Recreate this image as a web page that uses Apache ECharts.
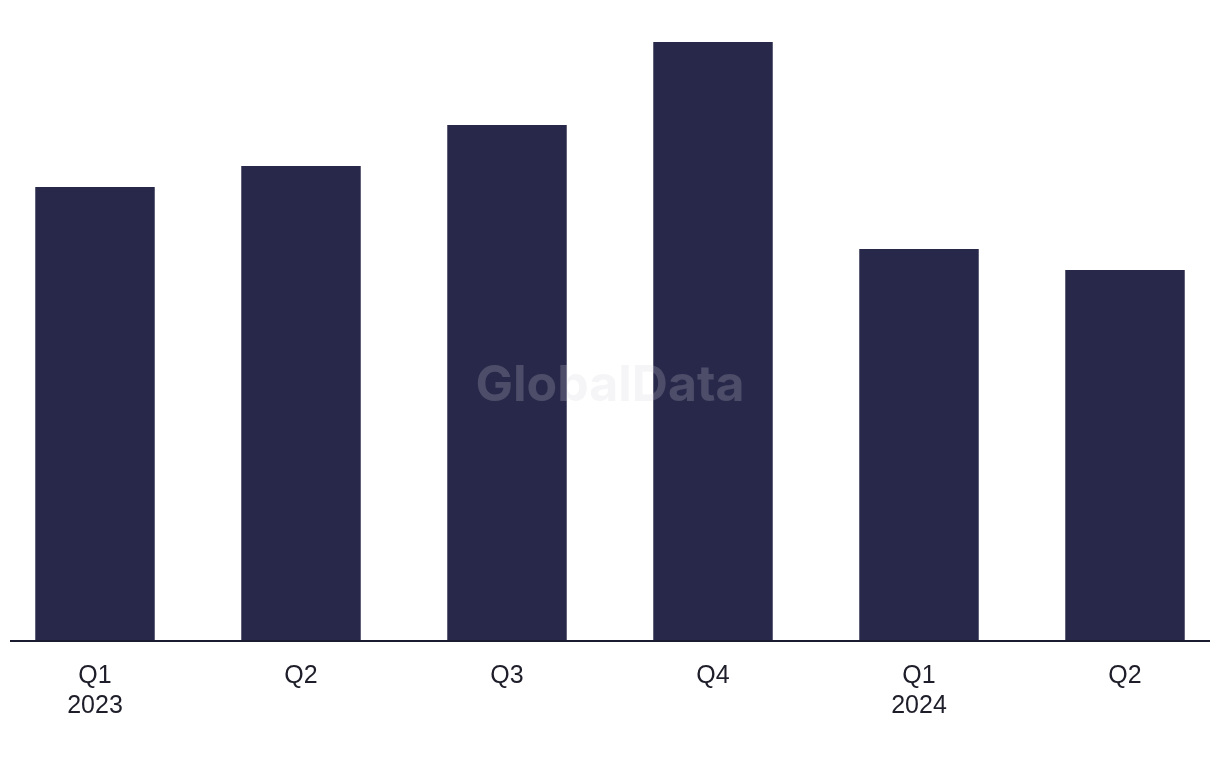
<!DOCTYPE html>
<html>
<head>
<meta charset="utf-8">
<script src="https://cdn.jsdelivr.net/npm/echarts@6/dist/echarts.min.js"></script>
<style>
  html, body { margin: 0; padding: 0; background: #fff; overflow: hidden; }
  /* plot is slightly wider than the window so the outer bands bleed off the edges */
  #chart { position: absolute; left: -8px; top: 0; width: 1236px; height: 768px; }
</style>
</head>
<body>
<div id="chart"></div>
<script>
// quarter labels (second line marks the year)
const categories = ["Q1\n2023", "Q2", "Q3", "Q4", "Q1\n2024", "Q2"];
// values
const values = [454, 475, 516, 599, 392, 371];
const barColor = "#28284a";

let chart = echarts.init(document.getElementById("chart"));
let option = {
  animation: false,
  grid: { left: 0, right: 0, top: 0, bottom: 127, containLabel: false },
  xAxis: {
    type: "category",
    data: categories,
    axisLine: { show: false },
    axisTick: { show: false },
    axisLabel: {
      margin: 20,
      fontFamily: "Liberation Sans",
      fontSize: 25,
      lineHeight: 30,
      color: "#1e1e2a"
    }
  },
  yAxis: {
    type: "value",
    min: 0,
    max: 641,
    show: false,
    splitLine: { show: false }
  },
  series: [{
    type: "bar",
    data: values,
    barWidth: "58%",
    itemStyle: { color: barColor }
  }],
  graphic: [
    {
      type: "line",
      shape: { x1: 18, y1: 641, x2: 1218, y2: 641 },
      style: { stroke: "#1c1c30", lineWidth: 2 },
      z: 100
    },
    {
      type: "text",
      left: "center",
      top: 361,
      style: {
        text: "GlobalData",
        font: "bold 50px Inter",
        fill: "rgba(210,210,220,0.22)"
      },
      z: 100
    }
  ]
};
chart.setOption(option);
</script>
</body>
</html>
